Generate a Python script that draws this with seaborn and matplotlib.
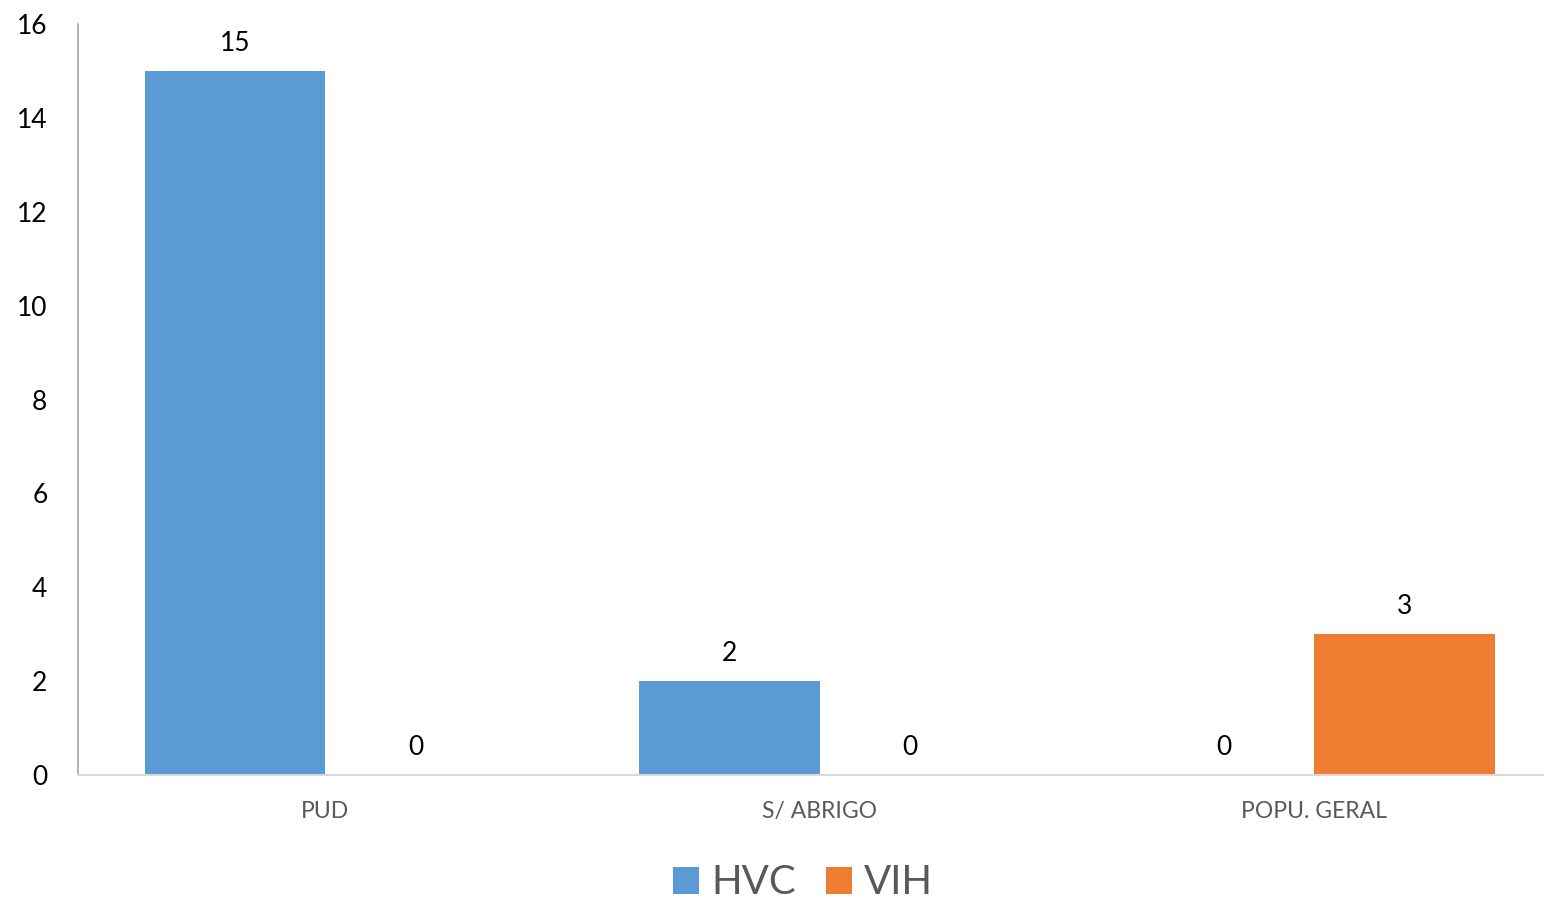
import matplotlib
matplotlib.use("Agg")
import matplotlib.pyplot as plt
import seaborn as sns
import pandas as pd

# ── Data ───────────────────────────────────────────────────────────────────────
categories = ["PUD", "S/ ABRIGO", "POPU. GERAL"]
series     = ["HVC", "VIH"]
hvc_values = [15, 2, 0]
vih_values = [0, 0, 3]
yticks     = [0, 2, 4, 6, 8, 10, 12, 14, 16]

COLORS = {"HVC": "#5B9BD5", "VIH": "#ED7D31"}

df = pd.DataFrame({
    "Categoria": categories * 2,
    "Serie"    : ["HVC"] * len(categories) + ["VIH"] * len(categories),
    "Valor"    : hvc_values + vih_values,
})

sns.set_style("white")
plt.rcParams["font.family"] = ["Lato", "DejaVu Sans"]

fig = plt.figure(figsize=(15.44, 9.01), dpi=100)
ax = fig.add_axes([0.0505, 0.1398, 0.9495, 0.8336])

sns.barplot(data=df, x="Categoria", y="Valor", hue="Serie", order=categories,
            hue_order=series, palette=COLORS, width=0.73, saturation=1,
            edgecolor="none", linewidth=0, ax=ax, legend=True)

# value labels above bars (including zeros)
for cont in ax.containers:
    ax.bar_label(cont, fmt="%g", padding=11, fontsize=19, color="black")

ax.set_ylim(0, 16)
ax.set_xlim(-0.5, 2.465)
ax.set_yticks(yticks)
ax.set_yticklabels([str(t) for t in yticks], fontsize=19, color="black")
ax.tick_params(axis="y", length=0, pad=22)
ax.tick_params(axis="x", length=0, pad=19)
for lbl in ax.get_xticklabels():
    lbl.set_fontsize(16.5)
    lbl.set_color("#595959")
ax.set_xlabel("")
ax.set_ylabel("")

sns.despine(ax=ax, top=True, right=True)
ax.spines["left"].set_color("#a6a6a6")
ax.spines["bottom"].set_color("#d9d9d9")
ax.spines["left"].set_linewidth(1.2)
ax.spines["bottom"].set_linewidth(1.5)

# legend below the chart
handles, labels = ax.get_legend_handles_labels()
ax.get_legend().remove()
fig.legend(handles, labels, loc="center", bbox_to_anchor=(0.52, 0.02),
           ncol=2, frameon=False, fontsize=29, labelcolor="#595959",
           handlelength=0.65, handleheight=0.65, handletextpad=0.3,
           columnspacing=0.75)

fig.savefig("out.png", dpi=100)
plt.close(fig)
